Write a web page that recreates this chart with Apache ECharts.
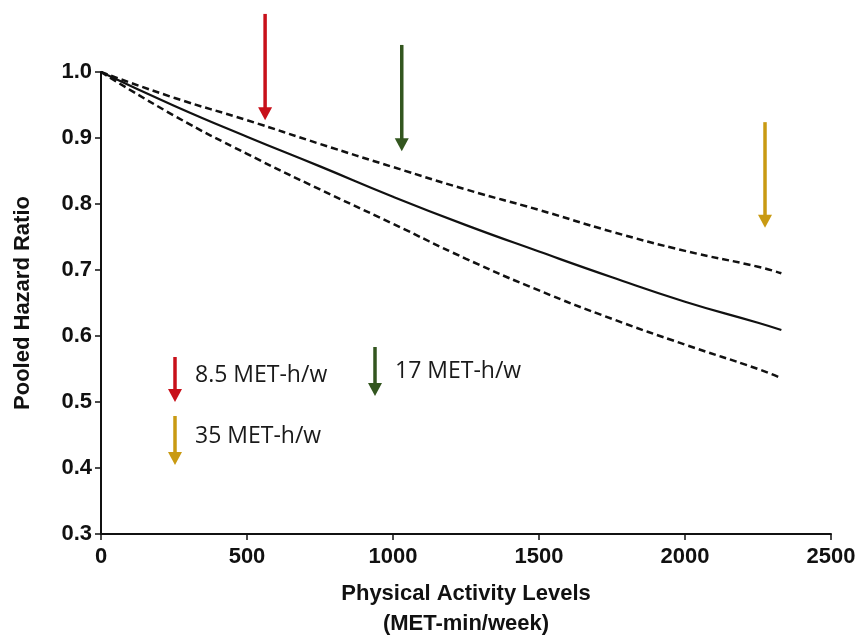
<!DOCTYPE html>
<html>
<head>
<meta charset="utf-8">
<script src="https://cdn.jsdelivr.net/npm/echarts@6/dist/echarts.min.js"></script>
<style>
html,body{margin:0;padding:0;background:#fff;}
#chart{width:857px;height:637px;}
</style>
</head>
<body>
<div id="chart"></div>
<script>
// Data
const xValues = [0, 250, 500, 750, 1000, 1250, 1500, 1750, 2000, 2250, 2330];
const hrPooled = [1.0, 0.949, 0.902, 0.857, 0.811, 0.768, 0.728, 0.689, 0.652, 0.620, 0.609];
const hrUpper  = [1.0, 0.961, 0.927, 0.891, 0.856, 0.822, 0.791, 0.758, 0.729, 0.705, 0.695];
const hrLower  = [1.0, 0.934, 0.876, 0.822, 0.770, 0.717, 0.669, 0.626, 0.587, 0.550, 0.536];

const xTicks = [0, 500, 1000, 1500, 2000, 2500];
const yTicks = [0.3, 0.4, 0.5, 0.6, 0.7, 0.8, 0.9, 1.0];

// Threshold arrows (x position, top value, tip value)
const arrowLabels = ['8.5 MET-h/w', '17 MET-h/w', '35 MET-h/w'];
const arrowX   = [562, 1030, 2274];
const arrowTop = [1.088, 1.041, 0.924];
const arrowTip = [0.927, 0.880, 0.764];
const arrowColors = ['#c8101a', '#33561f', '#c99a12'];

const pair = (ys) => xValues.map((x, i) => [x, ys[i]]);

const chart = echarts.init(document.getElementById('chart'), null, {renderer: 'canvas'});

const axisFont = '"Liberation Sans", Arial, sans-serif';

function legendArrow(x, y1, y2, color) {
  const headH = 13, headW = 7;
  return [
    {type: 'line', shape: {x1: x, y1: y1, x2: x, y2: y2 - headH + 1}, style: {stroke: color, lineWidth: 3.5}},
    {type: 'polygon', shape: {points: [[x - headW, y2 - headH], [x + headW, y2 - headH], [x, y2]]}, style: {fill: color}}
  ];
}

function legendText(x, y, text) {
  return {type: 'text', x: x, y: y, style: {text: text, font: '23px "Open Sans", "Noto Sans", sans-serif', fill: '#1a1a1a', verticalAlign: 'middle', align: 'left'}};
}

const option = {
  backgroundColor: '#ffffff',
  animation: false,
  grid: {left: 101, right: 26, top: 72, bottom: 103, containLabel: false, outerBoundsMode: 'none'},
  xAxis: {
    type: 'value',
    min: 0, max: 2500, interval: 500,
    name: 'Physical Activity Levels\n(MET-min/week)',
    nameLocation: 'middle',
    nameGap: 45,
    nameTextStyle: {fontFamily: axisFont, fontWeight: 'bold', fontSize: 22, color: '#111', lineHeight: 30, verticalAlign: 'top'},
    axisLine: {show: true, onZero: false, lineStyle: {color: '#111', width: 2}},
    axisTick: {show: true, length: 6, lineStyle: {color: '#111', width: 1.5}},
    axisLabel: {fontFamily: axisFont, fontWeight: 'bold', fontSize: 22, color: '#111', margin: 12,
      formatter: (v) => xTicks.includes(v) ? String(v) : ''},
    splitLine: {show: false}
  },
  yAxis: {
    type: 'value',
    min: 0.3, max: 1.0, interval: 0.1,
    name: 'Pooled Hazard Ratio',
    nameLocation: 'middle',
    nameGap: 67,
    nameRotate: 90,
    nameTextStyle: {fontFamily: axisFont, fontWeight: 'bold', fontSize: 22, color: '#111'},
    axisLine: {show: true, onZero: false, lineStyle: {color: '#111', width: 2}},
    axisTick: {show: true, length: 6, lineStyle: {color: '#111', width: 1.5}},
    axisLabel: {fontFamily: axisFont, fontWeight: 'bold', fontSize: 22, color: '#111', margin: 9,
      formatter: (v) => Number(v).toFixed(1)},
    splitLine: {show: false}
  },
  series: [
    {
      name: 'Upper CI', type: 'line', smooth: true, showSymbol: false, symbol: 'none',
      data: pair(hrUpper),
      lineStyle: {color: '#111', width: 2.5, type: [7, 4]}
    },
    {
      name: 'Pooled HR', type: 'line', smooth: true, showSymbol: false, symbol: 'none',
      data: pair(hrPooled),
      lineStyle: {color: '#111', width: 2.2, type: 'solid'}
    },
    {
      name: 'Lower CI', type: 'line', smooth: true, showSymbol: false, symbol: 'none',
      data: pair(hrLower),
      lineStyle: {color: '#111', width: 2.5, type: [7, 4]}
    },
    {
      name: 'Thresholds', type: 'custom', clip: false,
      data: arrowX.map((x, i) => [x, arrowTop[i], arrowTip[i]]),
      encode: {x: 0, y: [1, 2]},
      renderItem: function (params, api) {
        const x = api.value(0), top = api.value(1), tip = api.value(2);
        const p1 = api.coord([x, top]);
        const p2 = api.coord([x, tip]);
        const color = arrowColors[params.dataIndex];
        const headH = 13, headW = 7;
        return {
          type: 'group',
          children: [
            {type: 'line', shape: {x1: p1[0], y1: p1[1], x2: p2[0], y2: p2[1] - headH + 1}, style: {stroke: color, lineWidth: 3.5}},
            {type: 'polygon', shape: {points: [[p2[0] - headW, p2[1] - headH], [p2[0] + headW, p2[1] - headH], [p2[0], p2[1]]]}, style: {fill: color}}
          ]
        };
      }
    }
  ],
  graphic: [
    ...legendArrow(175, 357, 402, arrowColors[0]),
    legendText(195, 375, arrowLabels[0]),
    ...legendArrow(375, 347, 396, arrowColors[1]),
    legendText(395, 371, arrowLabels[1]),
    ...legendArrow(175, 416, 465, arrowColors[2]),
    legendText(195, 436, arrowLabels[2])
  ]
};

chart.setOption(option);
</script>
</body>
</html>
